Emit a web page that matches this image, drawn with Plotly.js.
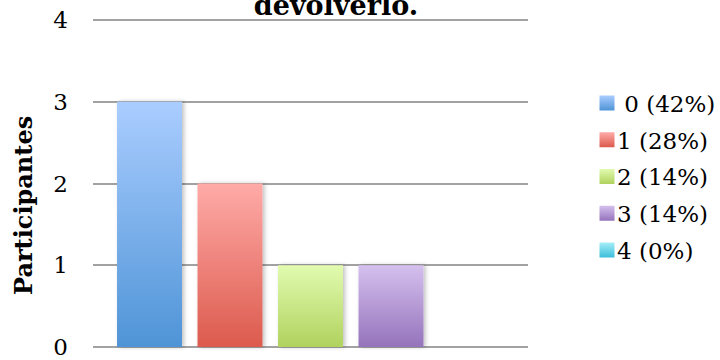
<!DOCTYPE html>
<html>
<head>
<meta charset="utf-8">
<script src="https://cdn.plot.ly/plotly-3.0.1.min.js"></script>
<style>
html,body{margin:0;padding:0;background:#fff;}
#chart{width:720px;height:360px;}
</style>
</head>
<body>
<div id="chart"></div>
<script>
const categories = ['0', '1', '2', '3', '4'];
const legendLabels = ['\u00a00 (42%)', '1 (28%)', '2 (14%)', '3 (14%)', '4 (0%)'];
const values = [3, 2, 1, 1, 0];
const yTickValues = [0, 1, 2, 3, 4];
const titleText = 'devolverlo.';
const yTitleText = 'Participantes';

const gradTop = ['#AACDFF', '#FFABA8', '#E2FBB0', '#D5C0EE', '#A6EEF8'];
const gradBottom = ['#4F94D7', '#DC5A4D', '#B0D25E', '#9573BC', '#3DBEDA'];

const traces = categories.map((c, i) => ({
  type: 'bar',
  x: [c],
  y: [values[i]],
  name: legendLabels[i],
  width: 0.807,
  marker: {color: gradBottom[i], line: {width: 0}},
  hoverinfo: 'none'
}));

const layout = {
  width: 720, height: 360,
  margin: {l: 93, r: 192, t: 16, b: 9},
  paper_bgcolor: '#fff', plot_bgcolor: '#fff',
  barmode: 'overlay',
  showlegend: true,
  font: {family: 'DejaVu Serif, serif', size: 23, color: '#000'},
  title: {
    text: '<b>' + titleText + '</b>',
    font: {family: 'DejaVu Serif, serif', size: 27, color: '#000'},
    x: 336 / 720, xanchor: 'center', xref: 'container',
    y: 1 - 6 / 360, yanchor: 'middle', yref: 'container'
  },
  xaxis: {
    type: 'category',
    range: [-0.702, 4.702],
    showticklabels: false,
    showgrid: false, zeroline: false, showline: false, ticks: ''
  },
  yaxis: {
    range: [-0.05, 4.05],
    tickvals: yTickValues,
    ticktext: yTickValues.map(String),
    ticks: '',
    ticklabelstandoff: 24,
    showgrid: true, gridcolor: '#a2a2a2', gridwidth: 2,
    zeroline: false, showline: false,
    tickfont: {family: 'DejaVu Serif, serif', size: 23, color: '#000'}
  },
  legend: {
    x: 587 / 720, xref: 'container', xanchor: 'left',
    y: 1 - 81.5 / 360, yref: 'container', yanchor: 'top',
    font: {family: 'DejaVu Serif, serif', size: 23, color: '#000'},
    bgcolor: 'rgba(0,0,0,0)', borderwidth: 0,
    tracegroupgap: 0, itemwidth: 30
  },
  annotations: [{
    text: '<b>' + yTitleText + '</b>',
    xref: 'paper', yref: 'paper',
    x: 23, y: 206, showarrow: false,
    xanchor: 'center', yanchor: 'middle',
    textangle: -90,
    font: {family: 'DejaVu Serif, serif', size: 24, color: '#000'}
  }]
};
(function(){
  const pw = 720 - 93 - 192, ph = 360 - 16 - 9;
  const a = layout.annotations[0];
  a.x = (a.x - 93) / pw;
  a.y = 1 - (a.y - 16) / ph;
})();

Plotly.newPlot('chart', traces, layout, {staticPlot: true, displayModeBar: false}).then(gd => {
  const svg = gd.querySelector('svg.main-svg');
  const ns = 'http://www.w3.org/2000/svg';
  let defs = svg.querySelector('defs');
  if (!defs) { defs = document.createElementNS(ns, 'defs'); svg.insertBefore(defs, svg.firstChild); }
  gradTop.forEach((t, i) => {
    const g = document.createElementNS(ns, 'linearGradient');
    g.setAttribute('id', 'bargrad' + i);
    g.setAttribute('x1', '0'); g.setAttribute('y1', '0');
    g.setAttribute('x2', '0'); g.setAttribute('y2', '1');
    const s1 = document.createElementNS(ns, 'stop');
    s1.setAttribute('offset', '0'); s1.setAttribute('stop-color', t);
    const s2 = document.createElementNS(ns, 'stop');
    s2.setAttribute('offset', '1'); s2.setAttribute('stop-color', gradBottom[i]);
    g.appendChild(s1); g.appendChild(s2);
    defs.appendChild(g);
  });
  const f = document.createElementNS(ns, 'filter');
  f.setAttribute('id', 'barshadow');
  f.setAttribute('x', '-20%'); f.setAttribute('y', '-5%');
  f.setAttribute('width', '140%'); f.setAttribute('height', '110%');
  const ds = document.createElementNS(ns, 'feDropShadow');
  ds.setAttribute('dx', '2'); ds.setAttribute('dy', '0');
  ds.setAttribute('stdDeviation', '2'); ds.setAttribute('flood-color', '#000');
  ds.setAttribute('flood-opacity', '0.25');
  f.appendChild(ds); defs.appendChild(f);

  gd.querySelectorAll('.barlayer .trace').forEach((tr, i) => {
    tr.querySelectorAll('path').forEach(p => {
      p.style.fill = 'url(#bargrad' + i + ')';
      p.setAttribute('filter', 'url(#barshadow)');
    });
  });
  let y0 = null, x0 = 0;
  gd.querySelectorAll('.legend .traces').forEach((tr, i) => {
    tr.querySelectorAll('.legendpoints path').forEach(p => {
      p.setAttribute('d', 'M7.5,7.5H-7.5V-7.5H7.5Z');
      p.style.fill = 'url(#bargrad' + i + ')';
      p.style.stroke = 'none';
    });
    const t = tr.querySelector('text.legendtext');
    if (t) { t.setAttribute('x', String(parseFloat(t.getAttribute('x')) - 10)); }
    const m = /translate\(\s*([-\d.e]+)[ ,]+([-\d.e]+)\s*\)/.exec(tr.getAttribute('transform') || '');
    if (m) {
      if (y0 === null) { x0 = parseFloat(m[1]); y0 = parseFloat(m[2]); }
      tr.setAttribute('transform', 'translate(' + x0 + ',' + (y0 + i * 36.75) + ')');
    }
  });
  const bg = gd.querySelector('.legend .bg');
  if (bg) bg.setAttribute('height', '220');
  const clip = gd.querySelector('[id^="legend"][id$="clip"] rect, clipPath[id*="legend"] rect');
  if (clip) clip.setAttribute('height', '220');
});
</script>
</body>
</html>
